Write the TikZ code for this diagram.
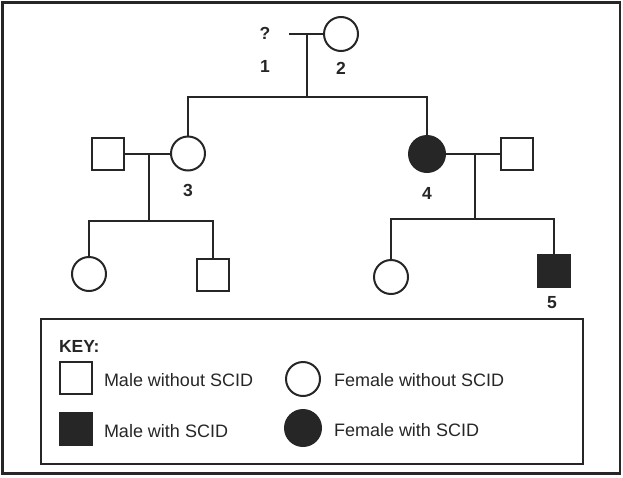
\documentclass[tikz,border=0pt]{standalone}
\usepackage{fontspec}
\setmainfont{Liberation Sans}
\usepackage{tikz}
\usetikzlibrary{positioning}
\definecolor{ink}{HTML}{262626}

\begin{document}
\begin{tikzpicture}[x=1pt,y=-1pt,line width=2pt,draw=ink,
	male/.style={rectangle,draw=ink,fill=white,minimum size=32pt,inner sep=0pt},
	female/.style={circle,draw=ink,fill=white,minimum size=34pt,inner sep=0pt},
	sick/.style={fill=ink},
	num/.style={text=ink,font=\fontsize{17.5}{20}\selectfont\bfseries,inner sep=0pt},
	keytext/.style={text=ink,font=\fontsize{18}{21}\selectfont,anchor=west,inner sep=0pt}]
	
	\useasboundingbox (0,0) rectangle (623,477);
	\draw[line width=2.2pt] (2.5,2.5) rectangle (620,473.5);
	
	% first generation
	\node[num] (q) at (265,33) {?};
	\node[female] (p2) at (341,34) {};
	\node[num] (n1) at (265,66) {1};
	\node[num] (n2) at (341,68) {2};
	\coordinate (s1) at (289,34);
	\coordinate (m12) at (307,34);
	\coordinate (c12) at (307,97);
	\draw (s1) -- (p2);
	\draw (m12) -- (c12);
	
	% second generation
	\node[male] (m3) at (107.5,153.5) {};
	\node[female] (p3) at (188,153.5) {};
	\node[female,sick,minimum size=36pt] (p4) at (427,154) {};
	\node[male] (m4) at (517,154) {};
	\node[num] (n3) at (188,190) {3};
	\node[num] (n4) at (427,193) {4};
	\draw (p3) -- (p3 |- c12) -- (p4 |- c12) -- (p4);
	\draw (m3) -- (p3);
	\draw (p4) -- (m4);
	
	% third generation
	\coordinate (j3) at (149,153.5);
	\coordinate (k3) at (149,221);
	\coordinate (j4) at (475,154);
	\coordinate (k4) at (475,219);
	\node[female] (c3a) at (89,274) {};
	\node[male] (c3b) at (213,274.5) {};
	\node[female] (c4a) at (391,277) {};
	\node[male,sick] (c4b) at (554,271) {};
	\node[num] (n5) at (552,303) {5};
	\draw (j3) -- (k3);
	\draw (c3a) -- (c3a |- k3) -- (c3b |- k3) -- (c3b);
	\draw (j4) -- (k4);
	\draw (c4a) -- (c4a |- k4) -- (c4b |- k4) -- (c4b);
	
	% key
	\draw (41,319) rectangle (583,464);
	\node[num,anchor=west] (key) at (58,346) {KEY:};
	\node[male] (ks1) at (76,378) {};
	\node[keytext] (kt1) at (103,380) {Male without SCID};
	\node[female] (ks2) at (303,379) {};
	\node[keytext] (kt2) at (333,380) {Female without SCID};
	\node[male,sick] (ks3) at (76,429) {};
	\node[keytext] (kt3) at (103,431) {Male with SCID};
	\node[female,sick,minimum size=36pt] (ks4) at (303,428) {};
	\node[keytext] (kt4) at (333,430) {Female with SCID};
	
\end{tikzpicture}
\end{document}
